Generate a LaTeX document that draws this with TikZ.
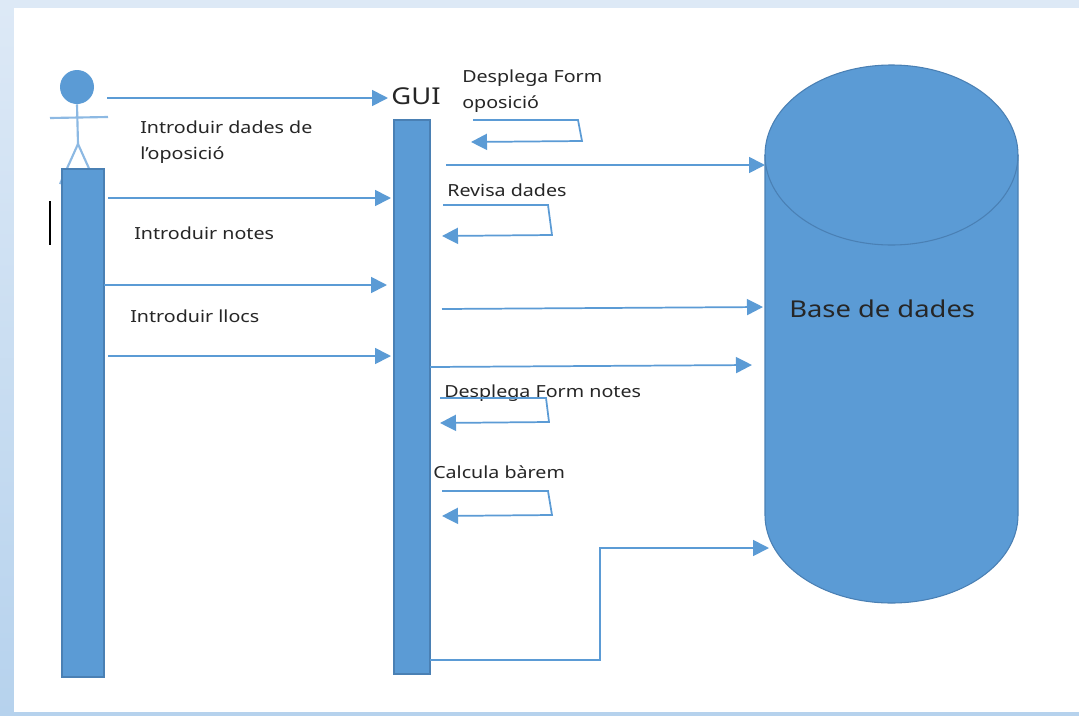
\documentclass[tikz,border=0pt]{standalone}
\usepackage{fontspec}
\setmainfont[FakeStretch=1.18]{Noto Sans}
\usetikzlibrary{arrows.meta}
\definecolor{umlblue}{HTML}{5B9BD5}
\definecolor{umledge}{HTML}{4A80B4}
\definecolor{umlpale}{HTML}{8DB9E3}
\definecolor{bgtop}{HTML}{DDE9F6}
\definecolor{bgbottom}{HTML}{B6D2ED}
\tikzset{
	lifeline/.style={shape=rectangle, fill=umlblue, draw=umledge, line width=0.9pt, inner sep=0pt},
	msg/.style={draw=umlblue, line width=1.3pt, -{Triangle[length=12pt,width=12pt]}},
	lbl/.style={anchor=west, inner sep=0pt, text=black!85, font=\fontsize{12.5}{19.5}\selectfont, align=left},
	stickline/.style={draw=umlpale, line width=1.6pt},
}
\begin{document}
\begin{tikzpicture}[x=0.75pt, y=-0.75pt]
		\useasboundingbox (0,0) rectangle (1079,715);
		\shade[top color=bgtop, bottom color=bgbottom] (0,0) rectangle (1079,715);
		\fill[white] (14,8) rectangle (1079,712);

		\draw[stickline] (78,144) coordinate(hip) -- (60,184) coordinate(footL);
		\draw[stickline] (hip) -- (96,184) coordinate(footR);
		\draw (77,87) node[shape=circle, fill=umlblue, inner sep=0pt, minimum size=25.5pt](head){};
		\draw[stickline] (head.south) -- (hip);
		\draw (50,118) coordinate(armL);
		\draw (108,117) coordinate(armR);
		\draw[stickline] (armL) -- (armR);

		\draw (83,423) node[lifeline, minimum width=31.5pt, minimum height=381pt](actorbar){};
		\draw (412,397) node[lifeline, minimum width=27pt, minimum height=415.5pt](guibar){};
		\draw (50,201) coordinate(cursortop);
		\draw (50,245) coordinate(cursorbot);
		\draw[black, line width=1pt] (cursortop) -- (cursorbot);

		\draw[fill=umlblue, draw=umledge, line width=0.8pt] (765,155) coordinate(dbtl) -- (765,515) coordinate(dbbl)
			arc[start angle=180, end angle=0, x radius=126.5, y radius=88] -- (1018,155) coordinate(dbtr)
			arc[start angle=0, end angle=-180, x radius=126.5, y radius=90] -- cycle;
		\draw[draw=umledge, line width=0.8pt] (dbtl) arc[start angle=180, end angle=0, x radius=126.5, y radius=90];

		\draw (416,96) node[inner sep=0pt, text=black!85, font=\fontsize{17.4}{20}\selectfont](gui){GUI};
		\draw (789,309) node[lbl, font=\fontsize{17.4}{20}\selectfont](db){Base de dades};
		\draw (140,142) node[lbl](lblopo){Introduir dades de\\l’oposició};
		\draw (134,233) node[lbl](lblnotes){Introduir notes};
		\draw (130,316) node[lbl](lbllloc){Introduir llocs};
		\draw (462,91) node[lbl](lblform){Desplega Form\\oposició};
		\draw (447,190) node[lbl](lblrev){Revisa dades};
		\draw (444,393) node[lbl](lblformn){Desplega Form notes};
		\draw (433,472) node[lbl](lblcalc){Calcula bàrem};

		\draw (107,98) coordinate(a1);
		\draw (388,98) coordinate(g1);
		\draw (108,198) coordinate(a2);
		\draw (391,198) coordinate(g2);
		\draw (104,285) coordinate(a3);
		\draw (387,285) coordinate(g3);
		\draw (108,356) coordinate(a4);
		\draw (391,356) coordinate(g4);
		\draw[msg] (a1) -- (g1);
		\draw[msg] (a2) -- (g2);
		\draw[msg] (a3) -- (g3);
		\draw[msg] (a4) -- (g4);

		\draw (446,165) coordinate(s1);
		\draw (765,165) coordinate(d1);
		\draw (442,309) coordinate(s2);
		\draw (763,307) coordinate(d2);
		\draw (430,367) coordinate(s3);
		\draw (752,365) coordinate(d3);
		\draw (430,660) coordinate(s4);
		\draw (769,548) coordinate(d4);
		\draw[msg] (s1) -- (d1);
		\draw[msg] (s2) -- (d2);
		\draw[msg] (s3) -- (d3);
		\draw[msg] (s4) -- (600,660) -- (600,548) -- (d4);

		\draw[msg] (473,120) coordinate(f1) -- (578,120) -- (582,141) -- (471,142) coordinate(f2);
		\draw[msg] (443,205) coordinate(r1) -- (548,205) -- (552,235) -- (442,236) coordinate(r2);
		\draw[msg] (440,398) coordinate(n1) -- (546,398) -- (549,422) -- (440,423) coordinate(n2);
		\draw[msg] (442,491) coordinate(c1) -- (548,491) -- (552,515) -- (442,516) coordinate(c2);
	\end{tikzpicture}
\end{document}
